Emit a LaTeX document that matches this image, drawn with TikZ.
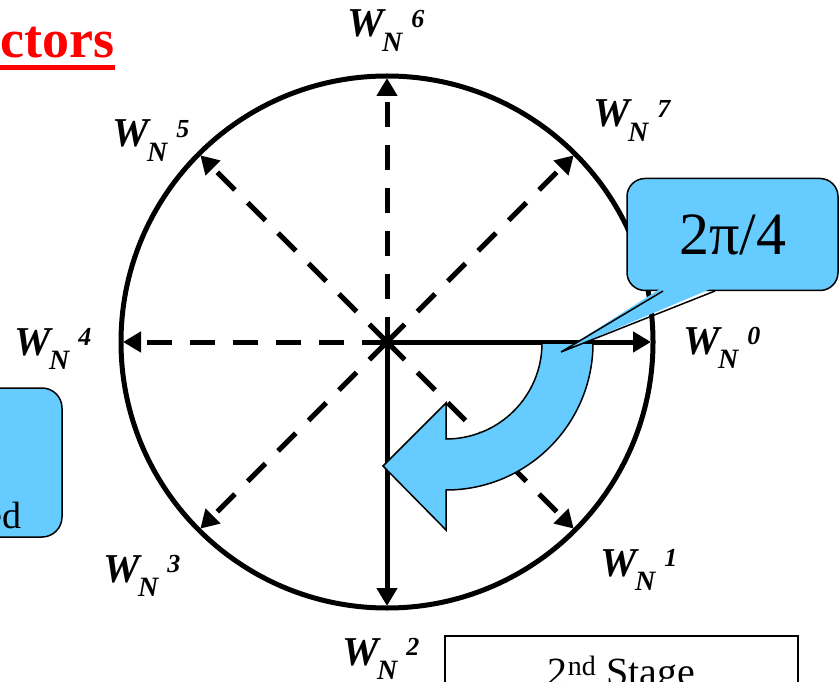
\documentclass[tikz,border=0pt]{standalone}
\usepackage{fontspec}
\setmainfont{Liberation Serif}
\usetikzlibrary{arrows.meta, calc}

\definecolor{calloutblue}{RGB}{102,204,255}

\newcommand{\twiddle}[1]{W\hspace{-0.04em}\raisebox{-0.36em}{\fontsize{28}{28}\selectfont N}\hspace{0.22em}\raisebox{0.24em}{\fontsize{26}{26}\selectfont #1}}

\begin{document}
\begin{tikzpicture}[
		x=1pt, y=1pt,
		spoke/.style={line width=5pt, -{Triangle[length=18pt, width=20pt]}},
		dashspoke/.style={spoke, dash pattern=on 25pt off 18pt},
		wlabel/.style={font=\fontsize{41}{41}\selectfont\bfseries\itshape, inner sep=0pt},
		bluebox/.style={draw, line width=1.5pt, fill=calloutblue, rounded corners=20pt}
	]
	\useasboundingbox (0,0) rectangle (840,681);
	\clip (0,0) rectangle (840,681);

	% Title
	\node[anchor=base east, inner sep=0pt, text=red, font=\fontsize{54}{54}\selectfont\bfseries] (title) at (115,623) {ctors};
	\draw[red, line width=5pt] (0,613.5) -- (title.east |- 0,613.5);

	% Circle and spokes
	\coordinate (o) at (387,339);
	\draw[line width=5pt] (o) circle[radius=266];
	\coordinate (p0) at ($(o)+(0:264)$);
	\coordinate (p1) at ($(o)+(-45:264)$);
	\coordinate (p2) at ($(o)+(-90:264)$);
	\coordinate (p3) at ($(o)+(-135:264)$);
	\coordinate (p4) at ($(o)+(180:264)$);
	\coordinate (p5) at ($(o)+(135:264)$);
	\coordinate (p6) at ($(o)+(90:264)$);
	\coordinate (p7) at ($(o)+(45:264)$);

	\draw[dashspoke] (o) -- (p1);
	\draw[dashspoke] (o) -- (p3);
	\draw[dashspoke] (o) -- (p4);
	\draw[dashspoke] (o) -- (p5);
	\draw[dashspoke] (o) -- (p6);
	\draw[dashspoke] (o) -- (p7);
	\draw[spoke] (o) -- (p0);
	\draw[spoke] (o) -- (p2);

	% Labels
	\node[wlabel, anchor=base west] (w0) at (683,327) {\twiddle{0}};
	\node[wlabel, anchor=base west] (w1) at (600,105) {\twiddle{1}};
	\node[wlabel, anchor=base west] (w2) at (342,16) {\twiddle{2}};
	\node[wlabel, anchor=base west] (w3) at (103,99) {\twiddle{3}};
	\node[wlabel, anchor=base west] (w4) at (14,326) {\twiddle{4}};
	\node[wlabel, anchor=base west] (w5) at (112,534) {\twiddle{5}};
	\node[wlabel, anchor=base west] (w6) at (347,644) {\twiddle{6}};
	\node[wlabel, anchor=base west] (w7) at (593,554) {\twiddle{7}};

	% Rotation arrow
	\draw[fill=calloutblue, line width=1.5pt] (542,338) -- (593,338)
		arc[start angle=0, end angle=-90, radius=147] -- (446,151) -- (383,215)
		-- (446,278) -- (446,242) arc[start angle=-90, end angle=0, radius=96] -- cycle;

	% Callout
	\node[bluebox, rounded corners=18pt, minimum width=211pt, minimum height=112pt, font=\fontsize{60}{60}\selectfont] (angle) at (732.5,446.5) {2π/4};
	\coordinate (tip) at (561,329);
	\fill[calloutblue] (663,394) -- (tip) -- (715,394) -- cycle;
	\draw[line width=1.5pt] (663,390) -- (tip) -- (715,390);

	% Left box
	\node[bluebox, minimum width=102pt, minimum height=149pt] (leftbox) at (11,218.5) {};
	\node[anchor=base east, inner sep=0pt, font=\fontsize{38}{38}\selectfont] (lefttext) at (22,153) {ed};

	% Stage box
	\node[draw, line width=2pt, fill=white, minimum width=353pt, minimum height=80pt] (stage) at (621.5,5) {};
	\node[anchor=base, inner sep=0pt, font=\fontsize{40}{40}\selectfont] (stagetext) at (621.5,-4) {2\textsuperscript{nd} Stage};
\end{tikzpicture}
\end{document}
